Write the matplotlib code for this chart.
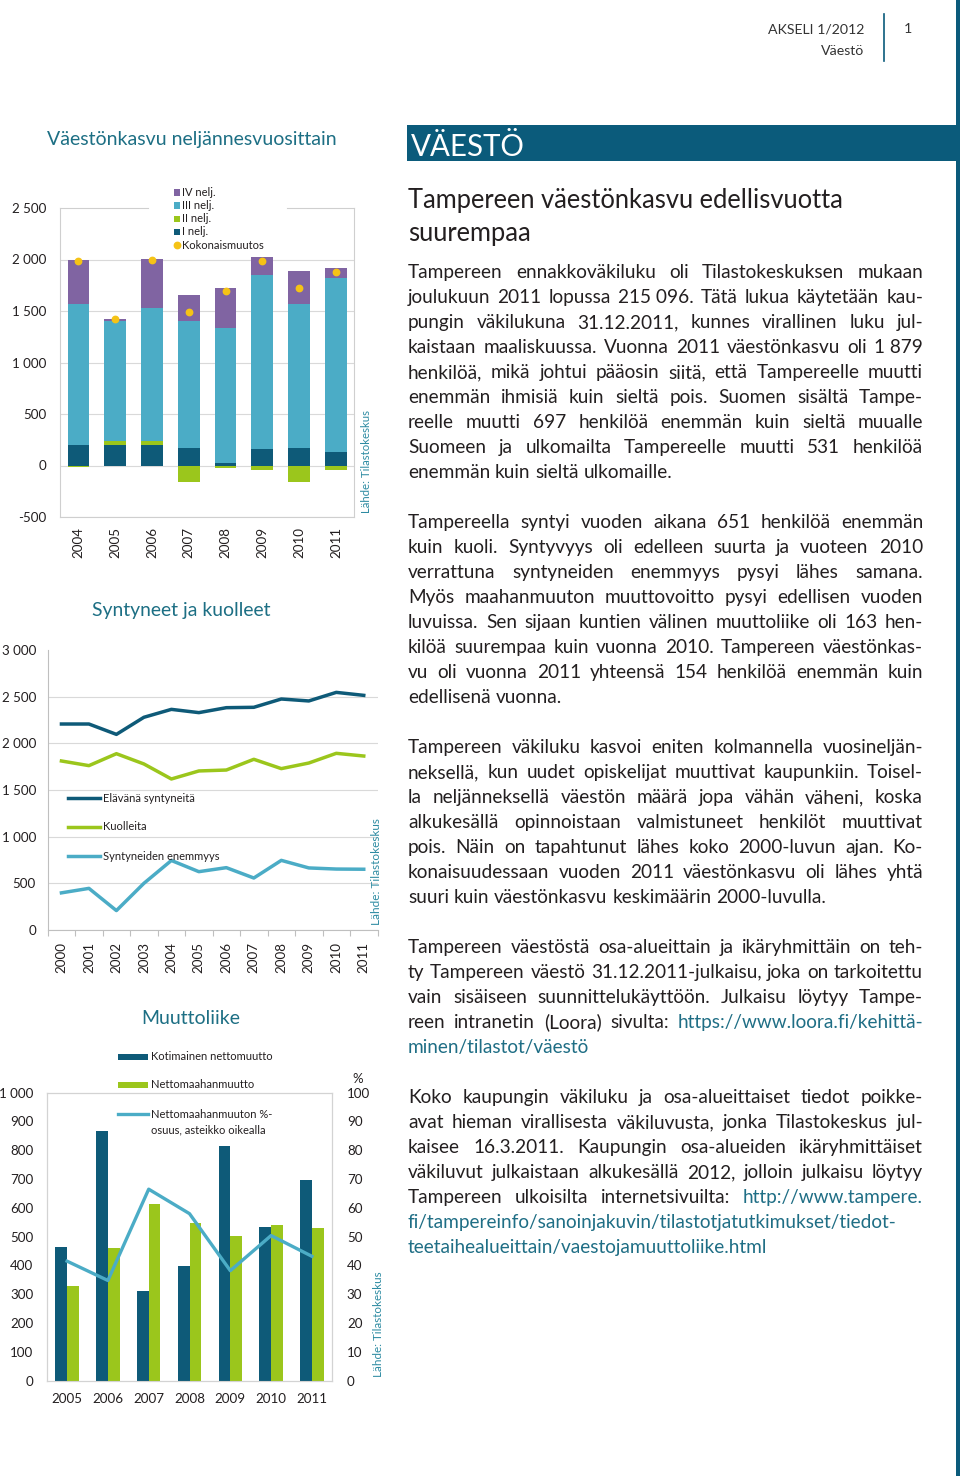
import matplotlib
matplotlib.use('Agg')
import matplotlib.pyplot as plt
from matplotlib.patches import Rectangle
from matplotlib.lines import Line2D
import numpy as np

W, H = 960, 1476
plt.rcParams['font.family'] = ['Lato', 'DejaVu Sans']

# quarterly population growth
years_q = ['2004', '2005', '2006', '2007', '2008', '2009', '2010', '2011']
q1 = [200, 200, 195, 169, 26, 162, 169, 130]
q2 = [-13, 40, 39, -165, -29, -42, -165, -42]
q3 = [1364, 1163, 1298, 1234, 1305, 1692, 1396, 1695]
q4 = [432, 19, 471, 250, 393, 172, 325, 97]
total_q = [1984, 1422, 2000, 1490, 1692, 1987, 1727, 1880]
q_names = ['I nelj.', 'II nelj.', 'III nelj.', 'IV nelj.']
y1_ticks = [-500, 0, 500, 1000, 1500, 2000, 2500]
y1_labels = ['-500', '0', '500', '1 000', '1 500', '2 000', '2 500']

# births and deaths
years_b = ['2000', '2001', '2002', '2003', '2004', '2005', '2006', '2007', '2008', '2009', '2010', '2011']
births = [2207, 2207, 2096, 2279, 2364, 2329, 2382, 2386, 2475, 2454, 2546, 2514]
deaths = [1811, 1761, 1889, 1779, 1618, 1704, 1714, 1829, 1729, 1789, 1893, 1864]
excess = [398, 446, 208, 500, 745, 625, 668, 557, 746, 665, 653, 651]
y2_ticks = [0, 500, 1000, 1500, 2000, 2500, 3000]
y2_labels = ['0', '500', '1 000', '1 500', '2 000', '2 500', '3 000']

# migration
years_m = ['2005', '2006', '2007', '2008', '2009', '2010', '2011']
domestic = [465, 868, 312, 398, 816, 534, 697]
immig = [329, 462, 613, 549, 502, 539, 531]
immig_share = [41.5, 34.8, 66.5, 58.0, 38.2, 50.4, 43.2]
y3_ticks = [0, 100, 200, 300, 400, 500, 600, 700, 800, 900, 1000]
y3_labels = ['0', '100', '200', '300', '400', '500', '600', '700', '800', '900', '1 000']
y3r_ticks = [0, 10, 20, 30, 40, 50, 60, 70, 80, 90, 100]

body_paras = [
    ["Tampereen ennakkoväkiluku oli Tilastokeskuksen mukaan",
     "joulukuun 2011 lopussa 215\u00a0096. Tätä lukua käytetään kau-",
     "pungin väkilukuna 31.12.2011, kunnes virallinen luku jul-",
     "kaistaan maaliskuussa. Vuonna 2011 väestönkasvu oli 1\u00a0879",
     "henkilöä, mikä johtui pääosin siitä, että Tampereelle muutti",
     "enemmän ihmisiä kuin sieltä pois. Suomen sisältä Tampe-",
     "reelle muutti 697 henkilöä enemmän kuin sieltä muualle",
     "Suomeen ja ulkomailta Tampereelle muutti 531 henkilöä",
     "enemmän kuin sieltä ulkomaille."],
    ["Tampereella syntyi vuoden aikana 651 henkilöä enemmän",
     "kuin kuoli. Syntyvyys oli edelleen suurta ja vuoteen 2010",
     "verrattuna syntyneiden enemmyys pysyi lähes samana.",
     "Myös maahanmuuton muuttovoitto pysyi edellisen vuoden",
     "luvuissa. Sen sijaan kuntien välinen muuttoliike oli 163 hen-",
     "kilöä suurempaa kuin vuonna 2010. Tampereen väestönkas-",
     "vu oli vuonna 2011 yhteensä 154 henkilöä enemmän kuin",
     "edellisenä vuonna."],
    ["Tampereen väkiluku kasvoi eniten kolmannella vuosineljän-",
     "neksellä, kun uudet opiskelijat muuttivat kaupunkiin. Toisel-",
     "la neljänneksellä väestön määrä jopa vähän väheni, koska",
     "alkukesällä opinnoistaan valmistuneet henkilöt muuttivat",
     "pois. Näin on tapahtunut lähes koko 2000-luvun ajan. Ko-",
     "konaisuudessaan vuoden 2011 väestönkasvu oli lähes yhtä",
     "suuri kuin väestönkasvu keskimäärin 2000-luvulla."],
    ["Tampereen väestöstä osa-alueittain ja ikäryhmittäin on teh-",
     "ty Tampereen väestö 31.12.2011-julkaisu, joka on tarkoitettu",
     "vain sisäiseen suunnittelukäyttöön. Julkaisu löytyy Tampe-",
     "reen intranetin (Loora) sivulta: https://www.loora.fi/kehittä-",
     "minen/tilastot/väestö"],
    ["Koko kaupungin väkiluku ja osa-alueittaiset tiedot poikke-",
     "avat hieman virallisesta väkiluvusta, jonka Tilastokeskus jul-",
     "kaisee 16.3.2011. Kaupungin osa-alueiden ikäryhmittäiset",
     "väkiluvut julkaistaan alkukesällä 2012, jolloin julkaisu löytyy",
     "Tampereen ulkoisilta internetsivuilta: http://www.tampere.",
     "fi/tampereinfo/sanoinjakuvin/tilastotjatutkimukset/tiedot-",
     "teetaihealueittain/vaestojamuuttoliike.html"],
]
para_baselines = [278, 528, 753, 953, 1103]

# colours
dark = '#0e5a78'
green = '#9bc61c'
light = '#4bacc6'
purple = '#8064a2'
yellow = '#f5c316'
band_c = '#0b5b7b'
title_c = '#1d6f84'
src_c = '#2d8ba2'
body_c = '#231f20'
link_c = '#1f6e85'
grid_c = '#d9d9d9'

fig = plt.figure(figsize=(W / 100, H / 100), dpi=100)
renderer = fig.canvas.get_renderer()


def px_axes(l, t, r, b):
    return fig.add_axes([l / W, 1 - b / H, (r - l) / W, (b - t) / H])


def ftext(x, y, s, **kw):
    return fig.text(x / W, 1 - y / H, s, **kw)


def fit(t, length):
    bb = t.get_window_extent(renderer)
    w = max(bb.width, bb.height) if t.get_rotation() else bb.width
    t.set_fontsize(t.get_fontsize() * length / w)


def fig_rect(x0, y0, x1, y1, color):
    fig.add_artist(Rectangle((x0 / W, 1 - y1 / H), (x1 - x0) / W, (y1 - y0) / H,
                             transform=fig.transFigure, color=color, lw=0))


def fig_line(x0, y0, x1, y1, color, lw, **kw):
    fig.add_artist(Line2D([x0 / W, x1 / W], [1 - y0 / H, 1 - y1 / H],
                          transform=fig.transFigure, color=color, lw=lw, **kw))


# ---------- page furniture
fig_rect(955.5, 0, 960, H, band_c)
fig_rect(406.7, 125.5, 955.5, 161, band_c)
t = ftext(410.7, 155.7, 'VÄESTÖ', color='white', fontsize=18, va='baseline')
fit(t, 114)
t = ftext(864, 33.3, 'AKSELI 1/2012', color='#333333', fontsize=10.5, va='baseline', ha='right')
fit(t, 97)
ftext(864, 55, 'Väestö', color='#333333', fontsize=t.get_fontsize(), va='baseline', ha='right')
ftext(904, 33.3, '1', color='#333333', fontsize=t.get_fontsize(), va='baseline', ha='left')
fig_line(883.7, 14, 883.7, 61, band_c, 1.2)

t = ftext(408, 208, 'Tampereen väestönkasvu edellisvuotta', color=body_c, fontsize=19, va='baseline')
fit(t, 437)
ftext(408, 241, 'suurempaa', color=body_c, fontsize=t.get_fontsize(), va='baseline')

# ---------- body text, justified
x_left, x_right = 408, 923
size = 13
widest = 0
for para in body_paras:
    for line in para[:-1]:
        tt = ftext(0, 0, line, fontsize=size)
        widest = max(widest, tt.get_window_extent(renderer).width)
        tt.remove()
size = size * (x_right - x_left) * 0.99 / widest
ta = ftext(0, 0, 'a a', fontsize=size)
tb = ftext(0, 0, 'aa', fontsize=size)
space_w = ta.get_window_extent(renderer).width - tb.get_window_extent(renderer).width
ta.remove()
tb.remove()


def put_line(line, y, justify):
    words = line.split(' ')
    texts = []
    for w in words:
        c = link_c if ('/' in w or w.startswith('http')) else body_c
        texts.append(ftext(0, y, w, fontsize=size, color=c, va='baseline', ha='left'))
    widths = [tx.get_window_extent(renderer).width for tx in texts]
    if justify and len(words) > 1:
        gap = (x_right - x_left - sum(widths)) / (len(words) - 1)
    else:
        gap = space_w
    x = x_left
    for tx, w in zip(texts, widths):
        tx.set_x(x / W)
        x += w + gap


for para, y0 in zip(body_paras, para_baselines):
    for i, line in enumerate(para):
        put_line(line, y0 + 25 * i, i < len(para) - 1)

# ---------- chart 1: quarterly growth
ax1 = px_axes(60, 208, 354.3, 517)
x = np.arange(len(years_q))
pos_base = np.zeros(len(x))
neg_base = np.zeros(len(x))
for vals, c in zip([q1, q2, q3, q4], [dark, green, light, purple]):
    v = np.array(vals, dtype=float)
    bottom = np.where(v >= 0, pos_base, neg_base)
    ax1.bar(x, v, 0.59, bottom=bottom, color=c, zorder=3)
    pos_base = pos_base + np.where(v >= 0, v, 0)
    neg_base = neg_base + np.where(v < 0, v, 0)
ax1.plot(x, total_q, 'o', color=yellow, ms=4.6, zorder=5)
ax1.set_xlim(-0.5, len(x) - 0.5)
ax1.set_ylim(-500, 2500)
ax1.set_yticks(y1_ticks)
ax1.set_yticklabels(y1_labels)
ax1.set_xticks(x)
ax1.set_xticklabels(years_q, rotation=90, va='top', ha='center')
ax1.tick_params(axis='y', length=0, pad=9.5, labelsize=9.6, labelcolor=body_c)
ax1.tick_params(axis='x', length=0, pad=7, labelsize=9.6, labelcolor=body_c)
ax1.yaxis.grid(True, color=grid_c, lw=0.8)
ax1.set_axisbelow(True)
ax1.get_ygridlines()[-1].set_visible(False)
for s in ax1.spines.values():
    s.set_color('#cfcfcf')
    s.set_linewidth(0.8)
ax1.spines['top'].set_visible(False)
ax1.axhline(2500, xmin=0, xmax=(148 - 60) / 294.3, color='#cfcfcf', lw=0.8, clip_on=False)
ax1.axhline(2500, xmin=(287 - 60) / 294.3, xmax=1, color='#cfcfcf', lw=0.8, clip_on=False)

leg_y = [192.3, 205.5, 218.7, 231.9]
for yy, c, name in zip(leg_y, [purple, light, green, dark], q_names[::-1]):
    fig_rect(173.5, yy - 3.2, 180, yy + 3.2, c)
    ftext(182, yy, name, fontsize=8, color=body_c, va='center')
fig.add_artist(Line2D([176.7 / W], [1 - 245.1 / H], marker='o', ms=4.6, color=yellow,
                      transform=fig.transFigure))
ftext(182, 245.1, 'Kokonaismuutos', fontsize=8, color=body_c, va='center')

t = ftext(46.7, 145, 'Väestönkasvu neljännesvuosittain', color=title_c, fontsize=15, va='baseline')
fit(t, 291)
t = ftext(366.7, 513, 'Lähde: Tilastokeskus', color=src_c, fontsize=8.5, rotation=90,
          ha='center', va='bottom')
fit(t, 103)

# ---------- chart 2: births and deaths
ax2 = px_axes(47.7, 650, 377.5, 930)
x2 = np.arange(len(years_b))
ax2.plot(x2, births, color=dark, lw=2.5, zorder=3)
ax2.plot(x2, deaths, color=green, lw=2.5, zorder=3)
ax2.plot(x2, excess, color=light, lw=2.5, zorder=3)
ax2.set_xlim(-0.5, len(x2) - 0.5)
ax2.set_ylim(0, 3000)
ax2.set_yticks(y2_ticks)
ax2.set_yticklabels(y2_labels)
ax2.set_xticks(x2)
ax2.set_xticklabels(years_b, rotation=90, va='top', ha='center')
ax2.set_xticks(np.arange(-0.5, len(x2)), minor=True)
ax2.tick_params(axis='y', length=0, pad=8.5, labelsize=9.6, labelcolor=body_c)
ax2.tick_params(axis='x', which='major', length=0, pad=8.5, labelsize=9.6, labelcolor=body_c)
ax2.tick_params(axis='x', which='minor', length=4, width=0.8, color='#bfbfbf')
ax2.yaxis.grid(True, color=grid_c, lw=0.8)
ax2.set_axisbelow(True)
ax2.get_ygridlines()[-1].set_visible(False)
for s in ['top', 'right']:
    ax2.spines[s].set_visible(False)
for s in ['left', 'bottom']:
    ax2.spines[s].set_color('#bfbfbf')
    ax2.spines[s].set_linewidth(0.8)

for yy, c, name in zip([798, 827, 856], [dark, green, light],
                       ['Elävänä syntyneitä', 'Kuolleita', 'Syntyneiden enemmyys']):
    fig_line(68, yy, 100, yy, c, 2.5)
    ftext(103, yy, name, fontsize=8, color=body_c, va='center')

t = ftext(92.3, 616, 'Syntyneet ja kuolleet', color=title_c, fontsize=15, va='baseline')
fit(t, 180)
t = ftext(376, 925, 'Lähde: Tilastokeskus', color=src_c, fontsize=8.5, rotation=90,
          ha='center', va='bottom')
fit(t, 106)

# ---------- chart 3: migration
ax3 = px_axes(46.7, 1092.7, 332.3, 1380.7)
x3 = np.arange(len(years_m))
bw = 0.287
ax3.bar(x3 - bw / 2, domestic, bw, color=dark, zorder=3)
ax3.bar(x3 + bw / 2, immig, bw, color=green, zorder=3)
ax3.set_xlim(-0.5, len(x3) - 0.5)
ax3.set_ylim(0, 1000)
ax3.set_yticks(y3_ticks)
ax3.set_yticklabels(y3_labels)
ax3.set_xticks(x3)
ax3.set_xticklabels(years_m)
ax3.tick_params(axis='y', length=0, pad=9.5, labelsize=9.6, labelcolor=body_c)
ax3.tick_params(axis='x', length=0, pad=8.5, labelsize=9.6, labelcolor=body_c)
ax3b = ax3.twinx()
ax3b.plot(x3, immig_share, color=light, lw=2.4, zorder=4)
ax3b.set_ylim(0, 100)
ax3b.set_yticks(y3r_ticks)
ax3b.tick_params(axis='y', length=0, pad=10.5, labelsize=9.6, labelcolor=body_c)
for a in (ax3, ax3b):
    for s in a.spines.values():
        s.set_color('#d3d3d3')
        s.set_linewidth(0.8)
ftext(357.5, 1082.7, '%', fontsize=9.5, color=body_c, ha='center', va='baseline')

fig_rect(118, 1053.8, 148, 1060.2, dark)
ftext(151, 1057, 'Kotimainen nettomuutto', fontsize=8, color=body_c, va='center')
fig_rect(118, 1081.8, 148, 1088.2, green)
ftext(151, 1085, 'Nettomaahanmuutto', fontsize=8, color=body_c, va='center')
fig_line(118, 1114, 148, 1114, light, 2.4)
ftext(151, 1114, 'Nettomaahanmuuton %-', fontsize=8, color=body_c, va='center')
ftext(151, 1130, 'osuus, asteikko oikealla', fontsize=8, color=body_c, va='center')

t = ftext(141, 1024, 'Muuttoliike', color=title_c, fontsize=15, va='baseline')
fit(t, 99)
t = ftext(378, 1377, 'Lähde: Tilastokeskus', color=src_c, fontsize=8.5, rotation=90,
          ha='center', va='bottom')
fit(t, 105)

fig.savefig('out.png', dpi=100)
